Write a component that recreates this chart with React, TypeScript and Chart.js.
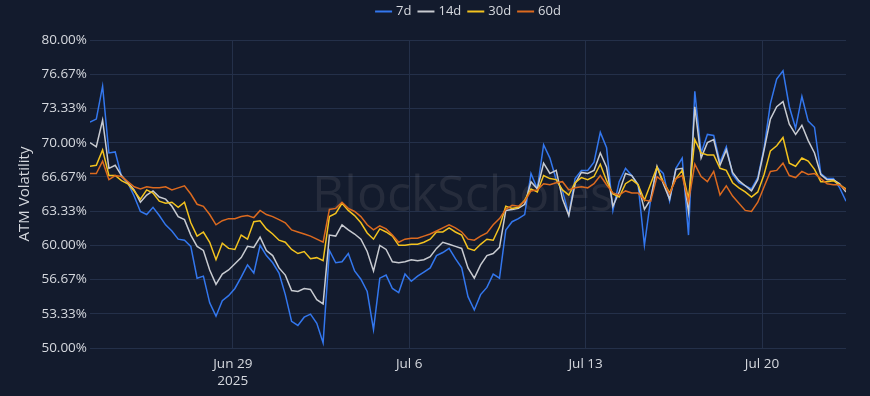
import { useEffect, useRef } from 'react';
import { Chart, registerables } from 'chart.js';

Chart.register(...registerables);

// time grid: hours relative to 2025-06-29 00:00, one sample every 6 hours
const START_HOUR = -136;
const STEP_HOURS = 6;

const SERIES_LABELS = ['7d', '14d', '30d', '60d'];
const SERIES_COLORS = ['#3377ee', '#c8cbd1', '#f3c31f', '#dc6a1f'];

const IV_7D = [
  72.0, 72.3, 75.5, 69.0, 69.1, 66.7, 66.1, 64.8, 63.3, 63.0,
  63.7, 62.9, 62.0, 61.4, 60.6, 60.5, 59.9, 56.8, 57.0, 54.4,
  53.1, 54.6, 55.1, 55.8, 56.9, 58.1, 57.3, 60.0, 59.0, 58.3,
  57.3, 55.2, 52.6, 52.2, 53.0, 53.3, 52.4, 50.5, 59.5, 58.3,
  58.4, 59.2, 57.5, 56.7, 55.5, 51.8, 56.8, 57.1, 55.8, 55.4,
  57.2, 56.5, 57.0, 57.4, 57.8, 59.0, 59.3, 59.7, 58.7, 57.8,
  55.0, 53.7, 55.2, 55.9, 57.2, 56.8, 61.5, 62.3, 62.6, 63.0,
  67.0, 65.5, 69.8, 68.5, 66.4, 65.3, 63.0, 66.5, 67.3, 67.3,
  68.1, 71.0, 69.5, 63.4, 66.2, 67.5, 66.8, 65.9, 60.0, 64.5,
  67.6, 67.0, 64.3, 67.5, 68.5, 61.0, 75.0, 69.0, 70.8, 70.7,
  68.1, 69.6, 66.9, 66.1, 65.8, 65.5, 66.6, 69.5, 73.8, 76.2,
  77.0, 73.5, 71.4, 74.5, 72.1, 71.5, 67.0, 66.5, 66.5, 65.6,
  64.3,
];

const IV_14D = [
  70.0, 69.6, 72.2, 67.5, 67.8, 66.8, 66.1, 65.4, 64.2, 64.9,
  65.3, 64.7, 64.5, 63.8, 62.8, 62.5, 61.0, 59.9, 59.5, 57.6,
  56.2, 57.2, 57.6, 58.2, 58.8, 59.9, 59.8, 60.8, 59.5, 59.0,
  57.8, 57.1, 55.6, 55.5, 55.8, 55.7, 54.7, 54.3, 61.0, 60.9,
  62.0, 61.5, 61.1, 60.6, 59.4, 57.5, 60.0, 59.6, 58.4, 58.3,
  58.4, 58.6, 58.5, 58.6, 58.9, 59.7, 60.3, 60.1, 59.9, 59.7,
  57.8, 56.8, 58.1, 59.0, 59.2, 59.8, 63.4, 63.5, 63.6, 64.0,
  66.2, 65.5, 68.0, 67.0, 67.3, 64.5, 62.9, 66.0, 67.1, 67.0,
  67.3, 69.0, 67.6, 63.8, 65.2, 67.0, 66.8, 65.9, 63.5, 64.5,
  67.7, 66.0, 64.5, 67.4, 67.5, 63.3, 73.5, 68.5, 70.0, 70.3,
  67.8, 69.3, 67.1, 66.3, 65.8, 65.3, 66.4, 69.3, 72.3, 73.5,
  74.0, 71.8, 70.8, 71.7, 70.2, 69.0, 66.9, 66.4, 66.4, 66.0,
  65.2,
];

const IV_30D = [
  67.7, 67.8, 69.3, 66.8, 66.8, 66.3, 66.0, 65.3, 64.5, 65.4,
  65.1, 64.3, 64.1, 64.2, 63.7, 64.2, 62.2, 60.9, 61.3, 60.3,
  58.6, 60.2, 59.7, 59.6, 61.0, 60.6, 62.3, 62.4, 61.6, 61.1,
  60.5, 60.3, 59.6, 59.2, 59.4, 58.7, 58.8, 58.5, 62.8, 63.1,
  64.1, 63.4, 62.9, 62.2, 61.2, 60.6, 61.6, 61.3, 60.9, 60.0,
  60.0, 60.1, 60.1, 60.3, 60.6, 61.3, 61.3, 61.7, 61.3, 61.0,
  59.7, 59.5, 60.1, 60.6, 60.5, 61.8, 63.8, 63.6, 63.7, 64.4,
  65.5, 65.2, 66.8, 66.5, 66.4, 65.4, 64.9, 66.1, 66.6, 66.4,
  66.7, 67.9, 66.3, 65.0, 64.7, 66.0, 66.4, 65.9, 64.4, 66.0,
  67.6, 66.2, 65.1, 66.5, 67.3, 64.5, 70.3, 69.0, 68.8, 68.8,
  67.5, 67.3, 66.1, 65.6, 65.2, 64.7, 65.2, 66.9, 69.2, 69.7,
  70.5, 68.0, 67.7, 68.5, 68.2, 67.4, 66.2, 66.2, 66.3, 65.9,
  65.5,
];

const IV_60D = [
  67.0, 67.0, 68.2, 66.4, 66.8, 66.7, 66.2, 65.7, 65.5, 65.7,
  65.6, 65.6, 65.7, 65.4, 65.6, 65.8, 65.0, 64.0, 63.8, 63.0,
  62.0, 62.4, 62.6, 62.6, 62.8, 62.9, 62.7, 63.4, 63.0, 62.8,
  62.5, 62.2, 61.5, 61.3, 61.1, 60.9, 60.6, 60.3, 63.5, 63.6,
  64.2, 63.6, 63.3, 62.8, 62.0, 61.5, 61.9, 61.6, 61.0, 60.3,
  60.6, 60.7, 60.7, 60.9, 61.1, 61.4, 61.7, 62.0, 61.7, 61.3,
  60.6, 60.5, 60.9, 61.2, 62.0, 62.6, 63.5, 63.9, 63.8, 64.3,
  65.3, 65.4, 66.0, 65.9, 66.1, 66.2, 65.4, 65.6, 65.7, 65.6,
  66.0, 66.8, 65.9, 65.1, 64.9, 65.3, 65.1, 65.1, 64.4, 64.3,
  66.7, 66.2, 65.0, 66.5, 66.8, 64.2, 67.9, 66.7, 66.2, 67.2,
  64.9, 65.8, 64.8, 64.1, 63.4, 63.3, 64.2, 65.7, 67.2, 67.3,
  68.0, 66.8, 66.6, 67.2, 66.9, 67.0, 66.5, 66.0, 65.9, 65.9,
  65.4,
];

const SERIES_VALUES = [IV_7D, IV_14D, IV_30D, IV_60D];

const Y_TICKS = [50, 53.3333, 56.6667, 60, 63.3333, 66.6667, 70, 73.3333, 76.6667, 80];
const X_TICK_DAYS = [0, 7, 14, 21];
const X_TICK_LABELS: (string | string[])[] = [['Jun 29', '2025'], 'Jul 6', 'Jul 13', 'Jul 20'];

const Y_TITLE = 'ATM Volatility';
const WATERMARK = 'BlockScholes';

const BG = '#131b2d';
const GRID = '#243049';
const TEXT = '#d6d9df';
const FONT = "'Open Sans', 'DejaVu Sans', sans-serif";

const TIME_DAYS = IV_7D.map((_, i) => (START_HOUR + STEP_HOURS * i) / 24);

const bgPlugin = {
  id: 'bgFill',
  beforeDraw(chart: any) {
    const { ctx, width, height } = chart;
    ctx.save();
    ctx.fillStyle = BG;
    ctx.fillRect(0, 0, width, height);
    ctx.restore();
  },
};

const watermarkPlugin = {
  id: 'watermark',
  beforeDatasetsDraw(chart: any) {
    const { ctx, chartArea } = chart;
    ctx.save();
    ctx.font = `50px ${FONT}`;
    ctx.fillStyle = 'rgba(150,150,150,0.15)';
    ctx.textAlign = 'center';
    ctx.textBaseline = 'alphabetic';
    ctx.fillText(WATERMARK, (chartArea.left + chartArea.right) / 2 - 5, 211);
    ctx.restore();
  },
};

const legendPlugin = {
  id: 'topLegend',
  afterDraw(chart: any) {
    const { ctx, chartArea } = chart;
    const lineLen = 17;
    const gapText = 4;
    const gapItem = 6;
    ctx.save();
    ctx.font = `13px ${FONT}`;
    const widths = SERIES_LABELS.map((l) => ctx.measureText(l).width);
    const total =
      widths.reduce((a, b) => a + b, 0) + SERIES_LABELS.length * (lineLen + gapText) + (SERIES_LABELS.length - 1) * gapItem;
    let x = (chartArea.left + chartArea.right) / 2 - total / 2;
    const y = 11.5;
    SERIES_LABELS.forEach((label, i) => {
      ctx.strokeStyle = SERIES_COLORS[i];
      ctx.lineWidth = 2;
      ctx.beginPath();
      ctx.moveTo(x, y);
      ctx.lineTo(x + lineLen, y);
      ctx.stroke();
      x += lineLen + gapText;
      ctx.fillStyle = TEXT;
      ctx.textAlign = 'left';
      ctx.textBaseline = 'middle';
      ctx.fillText(label, x, y);
      x += widths[i] + gapItem;
    });
    ctx.restore();
  },
};

export default function App() {
  const canvasRef = useRef<HTMLCanvasElement | null>(null);

  useEffect(() => {
    document.body.style.margin = '0';
    const canvas = canvasRef.current;
    if (!canvas) return;
    const chart = new Chart(canvas, {
      type: 'line',
      data: {
        datasets: SERIES_LABELS.map((label, i) => ({
          label,
          data: SERIES_VALUES[i].map((v, j) => ({ x: TIME_DAYS[j], y: v })),
          borderColor: SERIES_COLORS[i],
          backgroundColor: SERIES_COLORS[i],
          borderWidth: 1.5,
          pointRadius: 0,
          tension: 0,
          order: SERIES_LABELS.length - i,
        })),
      },
      options: {
        responsive: false,
        animation: false,
        layout: { padding: { top: 40, left: 0, right: 24, bottom: 0 } },
        plugins: {
          legend: { display: false },
          tooltip: { enabled: false },
        },
        scales: {
          x: {
            type: 'linear',
            min: TIME_DAYS[0],
            max: TIME_DAYS[TIME_DAYS.length - 1],
            afterBuildTicks(scale: any) {
              scale.ticks = X_TICK_DAYS.map((v) => ({ value: v }));
            },
            afterFit(scale: any) {
              scale.height = 48;
            },
            ticks: {
              autoSkip: false,
              maxRotation: 0,
              padding: 7.5,
              color: TEXT,
              font: { family: FONT, size: 13.5, lineHeight: 1.25 },
              callback: (_v: any, idx: number) => X_TICK_LABELS[idx],
            },
            grid: { color: GRID, lineWidth: 1, drawTicks: false },
            border: { display: false },
          },
          y: {
            type: 'linear',
            min: 50,
            max: 80,
            afterBuildTicks(scale: any) {
              scale.ticks = Y_TICKS.map((v) => ({ value: v }));
            },
            afterFit(scale: any) {
              scale.width = 90;
            },
            ticks: {
              autoSkip: false,
              padding: 3,
              color: TEXT,
              font: { family: FONT, size: 13.5 },
              callback: (v: any) => Number(v).toFixed(2) + '%',
            },
            grid: { color: GRID, lineWidth: 1, drawTicks: false },
            border: { display: false },
            title: {
              display: true,
              text: Y_TITLE,
              color: TEXT,
              font: { family: FONT, size: 15 },
              padding: { top: 16, bottom: 0 },
            },
          },
        },
      },
      plugins: [bgPlugin, watermarkPlugin, legendPlugin],
    } as any);
    return () => chart.destroy();
  }, []);

  return (
    <div style={{ position: 'absolute', left: 0, top: 0, width: 870, height: 396, background: BG }}>
      <canvas ref={canvasRef} width={870} height={396} style={{ display: 'block' }} />
    </div>
  );
}
